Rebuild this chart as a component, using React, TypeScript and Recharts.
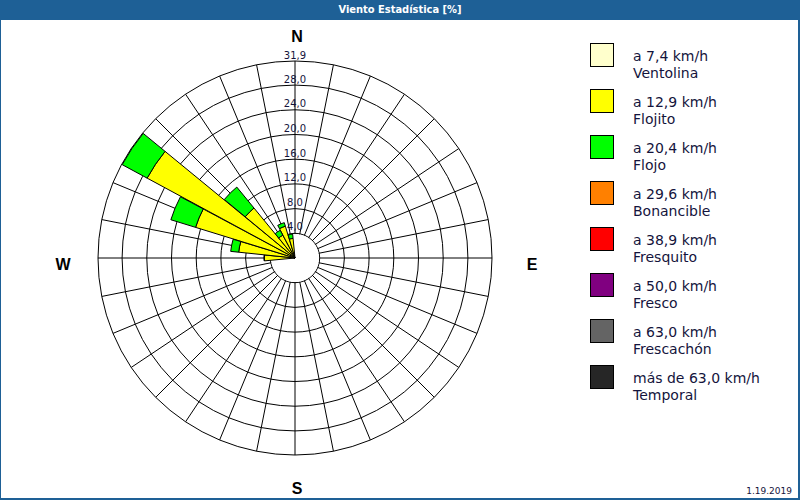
import { RadialBarChart, RadialBar, PolarGrid, PolarAngleAxis, PolarRadiusAxis } from 'recharts';

// 32 compass sectors, clockwise from north
const directions = [
  'N', 'NbE', 'NNE', 'NEbN', 'NE', 'NEbE', 'ENE', 'EbN',
  'E', 'EbS', 'ESE', 'SEbE', 'SE', 'SEbS', 'SSE', 'SbE',
  'S', 'SbW', 'SSW', 'SWbS', 'SW', 'SWbW', 'WSW', 'WbS',
  'W', 'WbN', 'WNW', 'NWbW', 'NW', 'NWbN', 'NNW', 'NbW',
];

// frequency [%] per speed class and sector
const ventolina = [
  0, 0, 0, 0, 0, 0, 0, 0,
  0, 0, 0, 0, 0, 0, 0, 0,
  0, 0, 0, 0, 0, 0, 0, 0,
  0.2, 0.2, 0.2, 0.2, 0.2, 0.2, 0.2, 0.2,
];
const flojito = [
  0, 0, 0, 0, 0, 0, 0, 0,
  0, 0, 0, 0, 0, 0, 0, 0,
  0, 0, 0, 0, 0, 0, 0, 0,
  4.8, 9.0, 16.7, 27.1, 10.3, 4.0, 5.2, 3.0,
];
const flojo = [
  0, 0, 0, 0, 0, 0, 0, 0,
  0, 0, 0, 0, 0, 0, 0, 0,
  0, 0, 0, 0, 0, 0, 0, 0,
  0, 1.3, 4.2, 4.6, 4.4, 0.9, 0.6, 0.7,
];

const radiusTicks = [4, 8, 12, 16, 20, 24, 28, 31.9];
const MAX_VALUE = 31.9;

const legendItems = [
  { label: 'a 7,4 km/h', name: 'Ventolina', color: '#ffffcc' },
  { label: 'a 12,9 km/h', name: 'Flojito', color: '#ffff00' },
  { label: 'a 20,4 km/h', name: 'Flojo', color: '#00ff00' },
  { label: 'a 29,6 km/h', name: 'Bonancible', color: '#ff8000' },
  { label: 'a 38,9 km/h', name: 'Fresquito', color: '#ff0000' },
  { label: 'a 50,0 km/h', name: 'Fresco', color: '#800080' },
  { label: 'a 63,0 km/h', name: 'Frescachón', color: '#646464' },
  { label: 'más de 63,0 km/h', name: 'Temporal', color: '#262626' },
];

const data = directions.map((dir, i) => ({
  dir,
  ventolina: ventolina[i],
  flojito: flojito[i],
  flojo: flojo[i],
}));

const BLUE = '#1e6096';
const TEXT = '#14143c';
const CX = 294;
const CY = 238;
const OUTER_R = 197;
const SECTOR = 360 / directions.length;
// recharts draws each band from its start angle onwards, so start half a sector before north
const START = 90 - SECTOR / 2;

const rOf = (v: number) => (v / MAX_VALUE) * OUTER_R;

// distance from centre and small nudges for the cardinal letters
const COMPASS_POS: Record<string, { dist: number; dx: number; dy: number }> = {
  N: { dist: 222, dx: 2, dy: 0 },
  E: { dist: 237, dx: 0, dy: 6 },
  S: { dist: 230, dx: 2, dy: 0 },
  W: { dist: 232, dx: 0, dy: 6 },
};

const CompassTick = (props: any) => {
  const { payload } = props;
  const pos = COMPASS_POS[payload.value];
  if (!pos) return <g />;
  const theta = (directions.indexOf(payload.value) * SECTOR * Math.PI) / 180;
  return (
    <text
      x={CX + pos.dist * Math.sin(theta) + pos.dx}
      y={CY - pos.dist * Math.cos(theta) + pos.dy}
      textAnchor="middle"
      dominantBaseline="central"
      fontFamily="'Liberation Sans', Arial, sans-serif"
      fontWeight="bold"
      fontSize={16}
      fill="#000"
    >
      {payload.value}
    </text>
  );
};

const RadiusTick = (props: any) => {
  const { x, y, payload } = props;
  return (
    <text x={x} y={y - 3} textAnchor="middle" fontFamily="'DejaVu Sans', sans-serif" fontSize={10} fill={TEXT}>
      {Number(payload.value).toFixed(1).replace('.', ',')}
    </text>
  );
};

const App = () => {
  return (
    <div style={{ position: 'absolute', left: 0, top: 0, width: 800, height: 500, background: BLUE }}>
      <div
        style={{
          position: 'absolute', left: 0, top: 0, width: 800, height: 20, lineHeight: '20px',
          textAlign: 'center', color: '#fff', fontWeight: 'bold', fontSize: 11,
          fontFamily: "'DejaVu Sans Condensed', 'DejaVu Sans', sans-serif",
        }}
      >
        Viento Estadística [%]
      </div>
      <div style={{ position: 'absolute', left: 1, top: 20, width: 797, height: 478, background: '#fff' }}>
        <RadialBarChart
          width={590}
          height={478}
          data={data}
          layout="centric"
          cx={CX}
          cy={CY}
          innerRadius={0}
          outerRadius={OUTER_R}
          startAngle={START}
          endAngle={START - 360}
          barCategoryGap={0}
          margin={{ top: 0, right: 0, bottom: 0, left: 0 }}
        >
          <PolarGrid
            gridType="circle"
            stroke="#000"
            strokeOpacity={1}
            polarAngles={directions.map((_, i) => 90 - i * SECTOR)}
            polarRadius={radiusTicks.map(rOf)}
          />
          <circle cx={CX} cy={CY} r={rOf(radiusTicks[0]) - 0.6} fill="#fff" />
          <RadialBar dataKey="ventolina" stackId="w" fill="#ffffcc" stroke="#000" strokeWidth={1} isAnimationActive={false} />
          <RadialBar dataKey="flojito" stackId="w" fill="#ffff00" stroke="#000" strokeWidth={1} isAnimationActive={false} />
          <RadialBar dataKey="flojo" stackId="w" fill="#00ff00" stroke="#000" strokeWidth={1} isAnimationActive={false} />
          <PolarAngleAxis dataKey="dir" type="category" axisLine={false} tickLine={false} tick={CompassTick} />
          <PolarRadiusAxis
            type="number"
            angle={90}
            domain={[0, MAX_VALUE]}
            ticks={radiusTicks}
            allowDataOverflow
            axisLine={false}
            tickLine={false}
            tick={RadiusTick}
          />
        </RadialBarChart>

        <div style={{ position: 'absolute', left: 589, top: 23, fontFamily: "'DejaVu Sans', sans-serif", fontSize: 14, color: TEXT }}>
          {legendItems.map(item => (
            <div key={item.name} style={{ position: 'relative', height: 46 }}>
              <div
                style={{
                  position: 'absolute', left: 0, top: 0, width: 22, height: 22,
                  background: item.color, border: '1px solid #000',
                }}
              />
              <div style={{ position: 'absolute', left: 43, top: 5, lineHeight: '17px', whiteSpace: 'nowrap' }}>
                <div>{item.label}</div>
                <div>{item.name}</div>
              </div>
            </div>
          ))}
        </div>

        <div
          style={{
            position: 'absolute', right: 6, top: 466, fontFamily: "'DejaVu Sans', sans-serif",
            fontSize: 9, lineHeight: '11px', color: TEXT,
          }}
        >
          1.19.2019
        </div>
      </div>
    </div>
  );
};

export default App;
